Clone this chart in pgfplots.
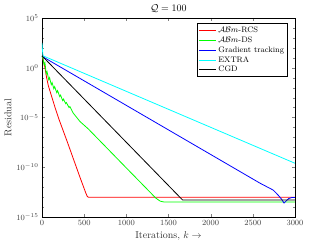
\documentclass[border=0pt]{standalone}
\usepackage{pgfplots}
\pgfplotsset{compat=1.18}
\definecolor{mred}{rgb}{1,0,0}
\definecolor{mgreen}{rgb}{0,1,0}
\definecolor{mblue}{rgb}{0,0,1}
\definecolor{mcyan}{rgb}{0,1,1}
\begin{document}
\begin{tikzpicture}
\useasboundingbox (-42bp,-27bp) rectangle (283bp,217bp);
\begin{axis}[
  scale only axis, width=253bp, height=199bp,
  at={(0,0)}, anchor=south west,
  ymode=log, xmin=0, xmax=3000, ymin=1e-15, ymax=1e5,
  xtick={0,500,1000,1500,2000,2500,3000},
  ytick={1e-15,1e-10,1e-5,1e0,1e5},
  minor ytick={1e-14,1e-13,1e-12,1e-11,1e-9,1e-8,1e-7,1e-6,1e-4,1e-3,1e-2,1e-1,1e1,1e2,1e3,1e4},
  scaled x ticks=false,
  xticklabel style={/pgf/number format/1000 sep={}},
  tick label style={font=\fontsize{8.5}{10}\selectfont, color=black!75},
  tick align=inside, major tick length=3bp, minor tick length=2bp,
  axis line style={line width=0.6pt},
  title={$\mathcal{Q}=100$}, title style={yshift=-4bp},
  xlabel={Iterations, $k\rightarrow$}, ylabel={Residual},
  label style={font=\normalsize, color=black!80},
  xlabel style={yshift=1bp}, ylabel style={yshift=-2bp},
  legend cell align=left,
  legend style={at={(0.970,0.973)}, anchor=north east, draw=black, line width=0.6pt,
    font=\footnotesize, inner sep=1bp, row sep=-1.2bp},
  legend image code/.code={\draw[#1] (0cm,0cm) -- (0.6cm,0cm);},
  every axis plot/.append style={line width=0.8pt},
]
\addplot[mred] coordinates {
(0,1.585e1) (10,7.94) (25,2.51) (35,1.0) (55,1e-1) (75,1.585e-2) (115,1.259e-3)
(155,1e-4) (200,7.08e-6) (300,3.55e-8) (450,1e-11) (520,2.51e-13) (535,1.26e-13)
(550,9.55e-14) (3000,9.55e-14)};
\addlegendentry{$\mathcal{AB}m$-RCS}
\addplot[mgreen] coordinates {
(0,1.585e1) (15,6.31) (25,2.0) (35,3.16) (50,2.51e-1) (60,3.98e-1) (80,6.31e-2)
(90,1e-1) (110,2.0e-2) (120,3.16e-2) (140,7.94e-3) (150,1.26e-2) (175,3.16e-3)
(185,5.01e-3) (210,1.26e-3) (220,1.78e-3) (245,5.01e-4) (255,7.08e-4) (280,2.51e-4)
(290,3.16e-4) (320,1e-4) (330,1.26e-4) (370,2.82e-5) (450,3.98e-6) (549,7.08e-7)
(800,4.68e-9) (1000,8.51e-11) (1200,1.585e-12) (1300,2.14e-13) (1350,7.94e-14)
(1400,3.98e-14) (1450,3.16e-14) (3000,3.16e-14)};
\addlegendentry{$\mathcal{AB}m$-DS}
\addplot[mblue] coordinates {
(0,1.41e1) (2585,2.51e-12) (2743,5.01e-13) (2800,1.585e-13) (2840,6.31e-14)
(2870,2.51e-14) (2900,4.47e-14) (2925,7.08e-14) (2960,8.91e-14) (3000,8.91e-14)};
\addlegendentry{Gradient tracking}
\addplot[mcyan] coordinates {
(0,3.16e2) (5,6.31e1) (12,1.585e1) (3000,2.51e-10)};
\addlegendentry{EXTRA}
\addplot[black] coordinates {
(0,1.585e1) (1668,5.01e-14) (3000,5.01e-14)};
\addlegendentry{CGD}
\end{axis}
\end{tikzpicture}
\end{document}
